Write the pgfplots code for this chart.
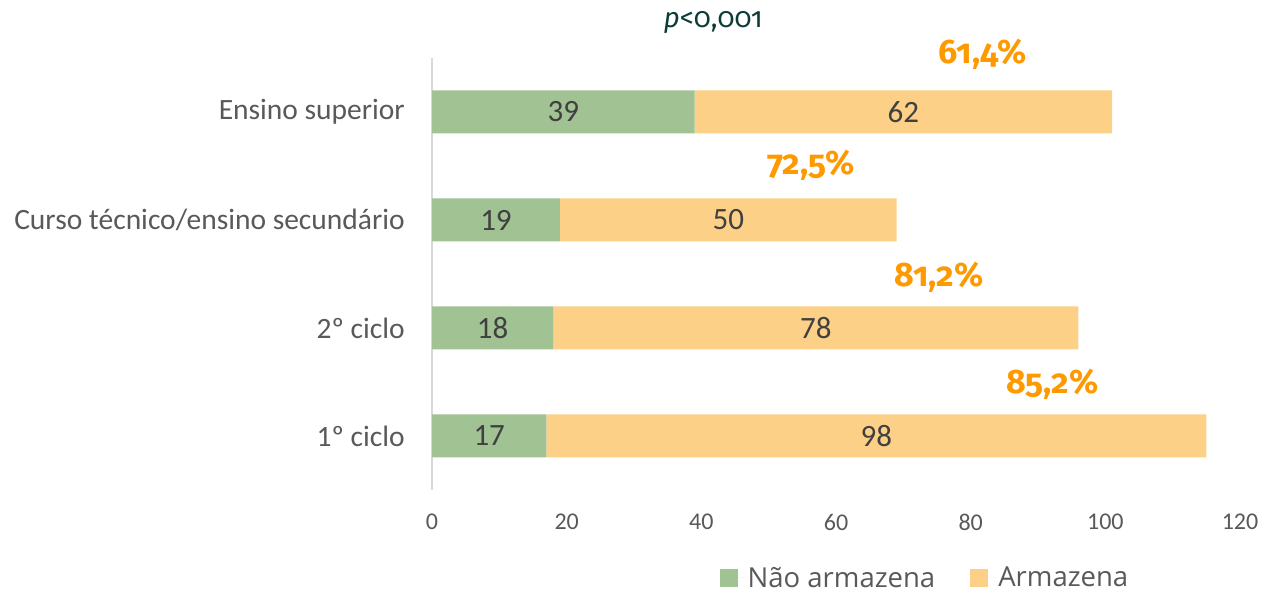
\documentclass[border=0pt]{standalone}
\usepackage{fontspec}
\setmainfont{Carlito}
\newfontfamily\oldnum{Fira Sans}[Numbers=OldStyle]
\newfontfamily\legfont{Open Sans}
\usepackage{pgfplots}
\pgfplotsset{compat=1.18}
\definecolor{cgreen}{HTML}{A1C293}
\definecolor{corange}{HTML}{FCD086}
\definecolor{cpct}{HTML}{FF9900}
\definecolor{ctitle}{HTML}{0D3C38}
\definecolor{ctext}{HTML}{595959}
\definecolor{cbar}{HTML}{404040}
\definecolor{caxis}{HTML}{D9D9D9}
\pgfplotsset{sq/.style={legend image code/.code={\path (0bp,0bp) -- (27bp,0bp);\fill[##1] (0bp,-9bp) rectangle (18bp,9bp);}}}
\begin{document}
\begin{tikzpicture}
\useasboundingbox (0,0) rectangle (1263bp,593bp);
\begin{axis}[
  at={(432bp,103bp)}, anchor=south west,
  scale only axis, width=808bp, height=432bp,
  xbar stacked, bar width=43bp,
  xmin=0, xmax=120, ymin=-0.5, ymax=3.5,
  xtick={0,20,...,120}, ytick={0,1,2,3},
  yticklabels={1º ciclo, 2º ciclo, Curso técnico/ensino secundário, Ensino superior},
  axis lines*=left,
  axis line style={-},
  x axis line style={draw=none},
  y axis line style={draw=caxis, line width=1.2bp},
  major tick length=0pt,
  /pgf/number format/assume math mode=true,
  xticklabel style={font=\fontsize{24bp}{28bp}\selectfont, text=ctext, anchor=center, yshift=-32bp},
  yticklabel style={font=\fontsize{29.5bp}{33bp}\selectfont, text=ctext, anchor=east, inner sep=0pt, xshift=-27bp},
  title={\textit{p}<0,001},
  title style={at={(0.348,1)}, anchor=base, yshift=25bp, font=\oldnum\fontsize{28bp}{32bp}\selectfont, text=ctitle},
  legend style={at={(0.6095,-0.203)}, anchor=center, draw=none, legend columns=2, inner sep=0pt,
    font=\legfont\fontsize{27.5bp}{30bp}\selectfont, text=ctext,
    nodes={inner sep=1bp},
    /tikz/every even column/.append style={column sep=34bp}},
]
\addplot[fill=cgreen, draw=none, sq] coordinates {(17,0) (18,1) (19,2) (39,3)};
\addplot[fill=corange, draw=none, sq] coordinates {(98,0) (78,1) (50,2) (62,3)};
\legend{Não armazena, Armazena}
\end{axis}
\begin{axis}[
  at={(432bp,103bp)}, anchor=south west,
  scale only axis, width=808bp, height=432bp,
  xmin=0, xmax=120, ymin=-0.5, ymax=3.5,
  hide axis, clip=false,
]
\addplot[only marks, mark=none, nodes near coords, point meta=explicit symbolic,
  nodes near coords style={anchor=center, font=\fontsize{31bp}{34bp}\selectfont, text=cbar}]
  coordinates {(8.5,0)[17] (66,0)[98] (9,1)[18] (57,1)[78] (9.5,2)[19] (44,2)[50] (19.5,3)[39] (70,3)[62]};
\addplot[only marks, mark=none, nodes near coords, point meta=explicit symbolic,
  nodes near coords style={anchor=base, font=\oldnum\bfseries\fontsize{34bp}{38bp}\selectfont, text=cpct}]
  coordinates {(81.8,3.45)[61,4\%] (56.3,2.42)[72,5\%] (75.3,1.38)[81,2\%] (92.1,0.39)[85,2\%]};
\end{axis}
\end{tikzpicture}
\end{document}
